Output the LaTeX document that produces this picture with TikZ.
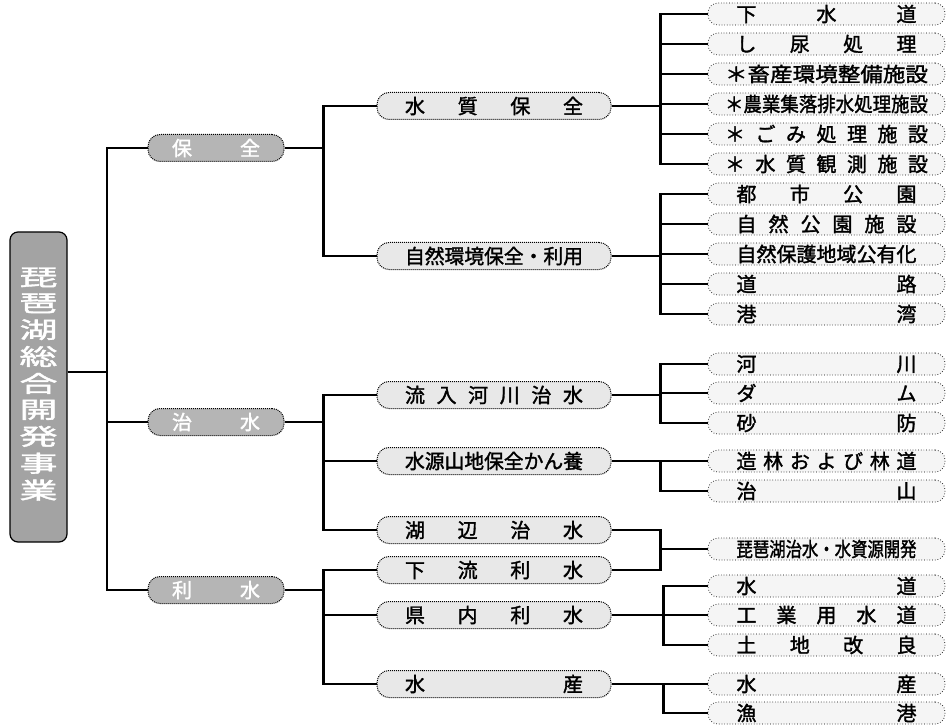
\documentclass[tikz,border=0pt]{standalone}
\usepackage{graphicx}
\usepackage{fontspec}
\newfontfamily\jp{Noto Sans CJK JP}[FakeBold=1.6]
\newcommand\spread[2]{\makebox[#1][s]{#2}}
\newcommand\sqz[2]{\resizebox{#1}{\height}{#2}}
\tikzset{
    root/.style={draw=black, line width=1.2pt, rounded corners=8pt, fill=gray!72, text=white,
        minimum width=57pt, minimum height=310pt, inner sep=0pt, font=\jp\fontsize{38}{43.3}\selectfont},
    main/.style={draw=black, densely dotted, line width=1pt, rounded corners=12pt, fill=gray!58, text=white,
        minimum width=136pt, minimum height=27pt, inner sep=0pt, font=\jp\fontsize{20}{24}\selectfont},
    mid/.style={draw=black, densely dotted, line width=1pt, rounded corners=12pt, fill=gray!18,
        minimum width=234pt, minimum height=27pt, inner sep=0pt, font=\jp\fontsize{20}{24}\selectfont},
    leaf/.style={draw=black, dotted, line width=0.7pt, rounded corners=10pt, fill=gray!8,
        minimum width=237pt, minimum height=22pt, inner sep=0pt, font=\jp\fontsize{20}{24}\selectfont},
    link/.style={draw=black, line width=2.2pt}
}
\begin{document}
\begin{tikzpicture}[x=1pt,y=-1pt]
    \useasboundingbox (0,0) rectangle (952,727);
    \node[root] (r) at (38.5,387) {\scalebox{1}[0.6]{\begin{tabular}{@{}c@{}}琵\\琶\\湖\\総\\合\\開\\発\\事\\業\end{tabular}}};
    \node[main] (a) at (216,148) {\spread{88pt}{保\hfill 全}};
    \node[main] (b) at (216,422) {\spread{88pt}{治\hfill 水}};
    \node[main] (c) at (216,590) {\spread{88pt}{利\hfill 水}};
    \node[mid] (a1) at (494,106) {\spread{178pt}{水\hfill 質\hfill 保\hfill 全}};
    \node[mid] (a2) at (494,256) {\sqz{178pt}{自然環境保全・利用}};
    \node[mid] (b1) at (494,395) {\spread{178pt}{流\hfill 入\hfill 河\hfill 川\hfill 治\hfill 水}};
    \node[mid] (b2) at (494,461) {\sqz{178pt}{水源山地保全かん養}};
    \node[mid] (b3) at (494,530) {\spread{178pt}{湖\hfill 辺\hfill 治\hfill 水}};
    \node[mid] (c1) at (494,570) {\spread{178pt}{下\hfill 流\hfill 利\hfill 水}};
    \node[mid] (c2) at (494,615) {\spread{178pt}{県\hfill 内\hfill 利\hfill 水}};
    \node[mid] (c3) at (494,684) {\spread{178pt}{水\hfill 産}};
    \node[leaf] (a11) at (826.5,14) {\spread{180pt}{下\hfill 水\hfill 道}};
    \node[leaf] (a12) at (826.5,44) {\spread{180pt}{し\hfill 尿\hfill 処\hfill 理}};
    \node[leaf] (a13) at (826.5,74) {\sqz{203pt}{＊畜産環境整備施設}\hspace{20pt}};
    \node[leaf] (a14) at (826.5,104) {\sqz{203pt}{＊農業集落排水処理施設}\hspace{20pt}};
    \node[leaf] (a15) at (826.5,134) {\spread{203pt}{＊\hfill ご\hfill み\hfill 処\hfill 理\hfill 施\hfill 設}\hspace{20pt}};
    \node[leaf] (a16) at (826.5,164) {\spread{203pt}{＊\hfill 水\hfill 質\hfill 観\hfill 測\hfill 施\hfill 設}\hspace{20pt}};
    \node[leaf] (a21) at (826.5,194) {\spread{180pt}{都\hfill 市\hfill 公\hfill 園}};
    \node[leaf] (a22) at (826.5,224) {\spread{180pt}{自\hfill 然\hfill 公\hfill 園\hfill 施\hfill 設}};
    \node[leaf] (a23) at (826.5,254) {\sqz{180pt}{自然保護地域公有化}};
    \node[leaf] (a24) at (826.5,284) {\spread{180pt}{道\hfill 路}};
    \node[leaf] (a25) at (826.5,314) {\spread{180pt}{港\hfill 湾}};
    \node[leaf] (b11) at (826.5,364) {\spread{180pt}{河\hfill 川}};
    \node[leaf] (b12) at (826.5,393) {\spread{180pt}{ダ\hfill ム}};
    \node[leaf] (b13) at (826.5,423) {\spread{180pt}{砂\hfill 防}};
    \node[leaf] (b21) at (826.5,461) {\spread{180pt}{造\hfill 林\hfill お\hfill よ\hfill び\hfill 林\hfill 道}};
    \node[leaf] (b22) at (826.5,491) {\spread{180pt}{治\hfill 山}};
    \node[leaf] (d) at (826.5,549) {\sqz{180pt}{琵琶湖治水・水資源開発}};
    \node[leaf] (c21) at (826.5,586) {\spread{180pt}{水\hfill 道}};
    \node[leaf] (c22) at (826.5,615) {\spread{180pt}{工\hfill 業\hfill 用\hfill 水\hfill 道}};
    \node[leaf] (c23) at (826.5,645) {\spread{180pt}{土\hfill 地\hfill 改\hfill 良}};
    \node[leaf] (c31) at (826.5,684) {\spread{180pt}{水\hfill 産}};
    \node[leaf] (c32) at (826.5,713) {\spread{180pt}{漁\hfill 港}};
    \draw[link] ([yshift=15pt]r.east) -- ++(39,0) |- (a.west);
    \draw[link] ([yshift=15pt]r.east) -- ++(39,0) |- (b.west);
    \draw[link] ([yshift=15pt]r.east) -- ++(39,0) |- (c.west);
    \draw[link] (a.east) -- ++(39,0) |- (a1.west);
    \draw[link] (a.east) -- ++(39,0) |- (a2.west);
    \draw[link] (b.east) -- ++(39,0) |- (b1.west);
    \draw[link] (b.east) -- ++(39,0) |- (b2.west);
    \draw[link] (b.east) -- ++(39,0) |- (b3.west);
    \draw[link] (c.east) -- ++(39,0) |- (c1.west);
    \draw[link] (c.east) -- ++(39,0) |- (c2.west);
    \draw[link] (c.east) -- ++(39,0) |- (c3.west);
    \draw[link] (a1.east) -- ++(49,0) |- (a11.west);
    \draw[link] (a1.east) -- ++(49,0) |- (a12.west);
    \draw[link] (a1.east) -- ++(49,0) |- (a13.west);
    \draw[link] (a1.east) -- ++(49,0) |- (a14.west);
    \draw[link] (a1.east) -- ++(49,0) |- (a15.west);
    \draw[link] (a1.east) -- ++(49,0) |- (a16.west);
    \draw[link] (a2.east) -- ++(49,0) |- (a21.west);
    \draw[link] (a2.east) -- ++(49,0) |- (a22.west);
    \draw[link] (a2.east) -- ++(49,0) |- (a23.west);
    \draw[link] (a2.east) -- ++(49,0) |- (a24.west);
    \draw[link] (a2.east) -- ++(49,0) |- (a25.west);
    \draw[link] (b1.east) -- ++(49,0) |- (b11.west);
    \draw[link] (b1.east) -- ++(49,0) |- (b12.west);
    \draw[link] (b1.east) -- ++(49,0) |- (b13.west);
    \draw[link] (b2.east) -- ++(49,0) |- (b21.west);
    \draw[link] (b2.east) -- ++(49,0) |- (b22.west);
    \draw[link] (b3.east) -- ++(49,0) |- (d.west);
    \draw[link] (c1.east) -- ++(49,0) |- (d.west);
    \draw[link] (c2.east) -- ++(52,0) |- (c21.west);
    \draw[link] (c2.east) -- ++(52,0) |- (c22.west);
    \draw[link] (c2.east) -- ++(52,0) |- (c23.west);
    \draw[link] (c3.east) -- ++(52,0) |- (c31.west);
    \draw[link] (c3.east) -- ++(52,0) |- (c32.west);
\end{tikzpicture}
\end{document}
